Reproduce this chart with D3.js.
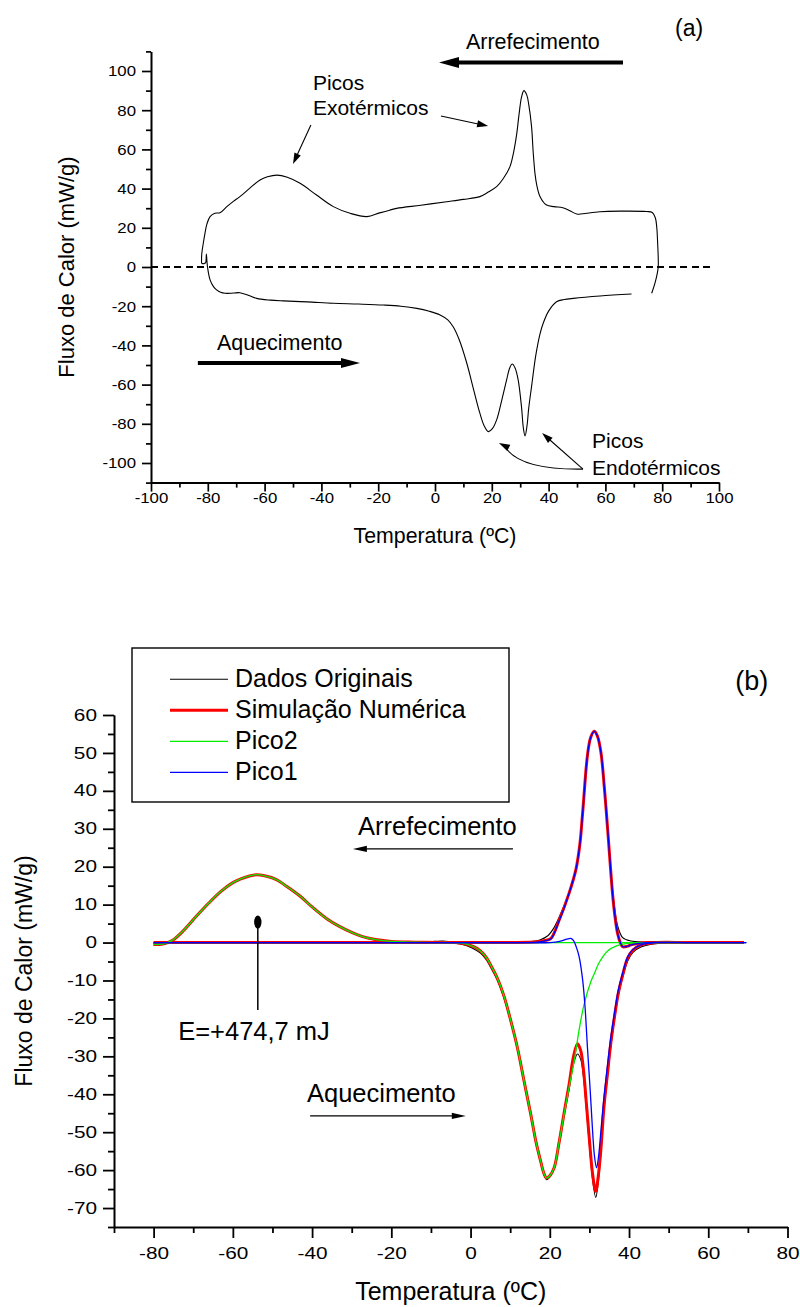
<!DOCTYPE html>
<html>
<head>
<meta charset="utf-8">
<script src="https://cdn.jsdelivr.net/npm/d3@7"></script>
<style>
  body { margin: 0; background: #fff; }
  svg { display: block; }
</style>
</head>
<body>
<script>
// DSC curves: (a) raw loop, (b) fit with two peaks

// ---- (a) data: one loop, cooling (right to left) then heating (left to right) ----
const loopCurve = [
    [76.3, -13.4], [77.5, -8], [78.3, -3], [78.6, 0], [78.6, 5], [78.4, 12], [78.1, 20], [77.6, 25],
    [76.5, 27.8], [74.5, 28.3], [65, 28.5], [58, 28.2], [52, 27.2], [49.9, 27], [47.5, 28.7], [45, 30.2],
    [42, 30.8], [39.3, 31.6], [37, 35.9], [35.8, 42], [35.2, 47.8], [34.6, 58], [34, 71.6], [33, 83],
    [32.3, 87.8], [31.3, 90], [30.5, 86.9], [29.6, 78], [28.8, 68.2], [27.6, 58], [26.4, 51.2], [24, 45],
    [21.7, 41], [18.5, 38], [15.8, 35.9], [10, 34.5], [4.1, 33.3], [-5, 31.5], [-13.5, 29.9], [-16, 29],
    [-19.5, 27.6], [-24, 25.7], [-29.9, 27.4], [-35.8, 30.8], [-41.7, 36.7], [-47.5, 42.7], [-52, 45.8],
    [-55.7, 46.9], [-59, 46], [-61.6, 44.4], [-65, 40.5], [-68.7, 35.9], [-71, 33.5], [-73.3, 30.8],
    [-75.7, 27.7], [-77.5, 27.4], [-79.2, 25.7], [-80.3, 22], [-81, 17.2], [-81.6, 12], [-82.1, 7],
    [-82.2, 3.5], [-82.1, 1.9], [-81, 1.9], [-80.7, 2.5], [-80.5, 6.6],
    [-80.3, 3], [-80.1, 0], [-79.2, -6.6], [-78, -10], [-76.9, -11.7], [-75.5, -12.9], [-73.9, -13.4],
    [-71, -13.3], [-68.7, -13.1], [-65.5, -14.5], [-62.8, -16], [-58, -16.9], [-53.4, -17.3], [-45, -17.8],
    [-35.8, -18.5], [-27, -18.9], [-18.2, -19.4], [-12, -20], [-6.4, -21.1], [-2, -22.6], [1.8, -24.5],
    [4.5, -27], [6.4, -30.5], [8.5, -37], [11.2, -49.1], [13.5, -62], [15.8, -74.6], [17.3, -81],
    [18.8, -84], [20.2, -82.5], [21.7, -78], [23.5, -68], [25.2, -57.7], [26.3, -51.5], [27.2, -49.5],
    [28.2, -51.5], [29.3, -57.7], [30.5, -72], [31.1, -82], [31.7, -86.2], [32.4, -81], [33, -72],
    [34, -61], [35.5, -45], [37, -34], [38.1, -28.7], [40, -22.5], [42.8, -17.7], [45.5, -16.6],
    [48.7, -16], [58.1, -14.8], [69.2, -13.8]
];

const topXMajor = [-100, -80, -60, -40, -20, 0, 20, 40, 60, 80, 100];
const topXMinor = [-90, -70, -50, -30, -10, 10, 30, 50, 70, 90];
const topYMajor = [-100, -80, -60, -40, -20, 0, 20, 40, 60, 80, 100];
const topYMinor = [-110, -90, -70, -50, -30, -10, 10, 30, 50, 70, 90, 110];

// ---- (b) data, each series split in cooling and heating runs (by rising temperature) ----
const dadosCool = [
    [-80, -0.7], [-78.5, -0.6], [-77, -0.3], [-75.1, 0.6], [-72.6, 3.0], [-69, 7.2], [-66, 10.5], [-63, 13.5],
    [-60, 15.8], [-58, 16.8], [-56, 17.5], [-54, 17.8], [-52, 17.5], [-49, 16.5], [-46.4, 14.7], [-43, 12.1],
    [-40, 9.3], [-36.3, 6.2], [-33, 4.1], [-30, 2.6], [-27, 1.4], [-24, 0.7], [-20, 0.2], [-14, 0],
    [-9, 0.3], [-7, 0.4], [-4, 0.1], [0, 0], [10, 0], [15, 0.2], [17.5, 0.7], [19.5, 1.8], [21, 3.8],
    [22.5, 7], [24.9, 13.3], [26.6, 19.5], [27.6, 26], [28.4, 35], [29.5, 49], [30.3, 53.8], [31.2, 55.5],
    [32, 54.3], [32.9, 50], [33.8, 40], [34.6, 29.8], [35.4, 19], [36.2, 10.5], [37.1, 4.5], [38.4, 1.3],
    [40.5, 0.4], [44, 0.1], [50, 0], [60, 0], [69, 0]
];
const dadosHeat = [
    [-80, -0.3], [-70, -0.1], [-50, 0], [-30, 0], [-15, 0], [-8, 0.1], [-4, -0.2], [-2, -0.5], [0.5, -1.5],
    [2.5, -2.8], [4, -4.6], [5.1, -6.6], [6.8, -10], [8.4, -14.5], [10, -20.3], [11.8, -27.8], [13.5, -36.8],
    [15.2, -45.6], [16.5, -52.8], [17.7, -58], [18.5, -61.2], [19.2, -62.5], [20, -61.8], [21.1, -59.6],
    [22.3, -53.2], [23.6, -45.5], [24.9, -38.5], [26, -32], [27, -29.4], [27.8, -30.8], [28.5, -35.5],
    [29.2, -43.5], [30, -53.5], [30.8, -62.5], [31.6, -67.2], [32.3, -62.5], [32.9, -55.5], [33.7, -44],
    [34.6, -35], [35.4, -27.5], [36.3, -20.5], [37.3, -14], [38.4, -9.2], [39.7, -4.8], [41, -2.6],
    [43, -1.2], [46, -0.4], [50, -0.1], [60, 0], [69, 0]
];

const simCool = [
    [-80, -0.5], [-78.5, -0.5], [-77, -0.2], [-75.1, 0.7], [-72.6, 3.0], [-69, 7.2], [-66, 10.5], [-63, 13.5],
    [-60, 15.8], [-58, 16.8], [-56, 17.5], [-54, 17.9], [-52, 17.6], [-49, 16.6], [-46.4, 14.8], [-43, 12.2],
    [-40, 9.4], [-36.3, 6.3], [-33, 4.2], [-30, 2.7], [-27, 1.5], [-24, 0.8], [-20, 0.3], [-14, 0.1],
    [-8, 0], [0, 0], [10, 0], [16.9, 0.2], [19, 0.6], [20.3, 1.1], [22.4, 6], [24.9, 13.1], [26.6, 19.3],
    [27.6, 26], [28.3, 34.3], [29.5, 49.3], [30.3, 54], [31.2, 55.7], [32, 54.5], [32.9, 50.2], [33.8, 40.5],
    [34.6, 29.9], [35.3, 20], [35.9, 12.2], [36.5, 6.5], [37.1, 2.5], [37.8, 0], [38.4, -1.1], [39.5, -1.0],
    [40.5, -0.6], [42.5, -0.2], [44.7, 0], [50, 0], [60, 0], [69, 0]
];
const simHeat = [
    [-80, 0], [-60, 0], [-40, 0], [-20, 0], [-10, 0], [-5, 0], [-2.5, -0.1], [0.8, -1.1], [2.5, -2.2],
    [4, -4], [5.1, -6], [6.8, -9.5], [8.4, -14], [10, -20], [11.8, -27.6], [13.5, -36.5], [15.2, -45.3],
    [16.5, -52.5], [17.7, -57.7], [18.5, -60.8], [19.2, -62.1], [20, -61.5], [21.1, -59.4], [22.3, -53],
    [23.6, -45], [24.9, -37.2], [26, -30], [27, -26.7], [27.8, -28.5], [28.5, -33.5], [29.2, -42], [30, -52],
    [30.8, -61], [31.6, -65.6], [32.3, -61], [32.9, -54.5], [33.7, -43], [34.6, -34.2], [35.4, -26.5],
    [36.3, -19.8], [37.3, -13.3], [38.4, -8.5], [39.7, -4], [41, -2], [43, -0.6], [47, 0], [55, 0], [69, 0]
];

const pico2Cool = [
    [-80, -0.5], [-78.5, -0.5], [-77, -0.2], [-75.1, 0.7], [-72.6, 3.0], [-69, 7.2], [-66, 10.5], [-63, 13.5],
    [-60, 15.8], [-58, 16.8], [-56, 17.5], [-54, 17.9], [-52, 17.6], [-49, 16.6], [-46.4, 14.8], [-43, 12.2],
    [-40, 9.4], [-36.3, 6.3], [-33, 4.2], [-30, 2.7], [-27, 1.5], [-24, 0.8], [-20, 0.3], [-14, 0.1],
    [-8, 0], [0, 0], [10, 0], [20, 0], [30, 0], [40, 0], [50, 0], [60, 0], [69, 0]
];
const pico2Heat = [
    [-80, 0], [-60, 0], [-40, 0], [-20, 0], [-10, 0], [-5, 0], [-2.5, -0.1], [0.8, -1.1], [2.5, -2.2],
    [4, -4], [5.1, -6], [6.8, -9.5], [8.4, -14], [10, -20], [11.8, -27.6], [13.5, -36.5], [15.2, -45.3],
    [16.5, -52.5], [17.7, -57.7], [18.5, -60.8], [19.2, -62.1], [20, -61.5], [21.1, -59.4], [22.3, -53],
    [23.6, -45.3], [24.9, -38], [26.2, -31.1], [27.4, -23], [28.7, -16.1], [30.4, -10.2], [31.2, -8.3],
    [32.5, -5.2], [34.6, -2.2], [37, -0.8], [39.7, -0.2], [45, 0], [55, 0], [69, 0]
];

const pico1Cool = [
    [-80, 0], [-60, 0], [-40, 0], [-20, 0], [0, 0], [10, 0], [16.9, 0.1], [19, 0.5], [20.3, 1.0], [22.4, 5.8],
    [24.9, 13.1], [26.6, 19.3], [27.6, 26], [28.3, 34.3], [29.5, 49.3], [30.3, 54], [31.2, 55.7], [32, 54.5],
    [32.9, 50.2], [33.8, 40.5], [34.6, 29.9], [35.3, 20], [35.9, 12.2], [36.5, 6.5], [37.1, 2.5], [37.8, 0],
    [38.4, -1.1], [39.5, -1.0], [40.5, -0.6], [42.5, -0.2], [44.7, 0], [50, 0], [60, 0], [69.6, 0]
];
const pico1Heat = [
    [-80, 0], [-60, 0], [-40, 0], [-20, 0], [0, 0], [10, 0], [20, 0], [22.5, 0.3], [24.3, 0.9], [25.3, 1.1],
    [26, 0.5], [26.7, -1.2], [27.4, -3.7], [28.3, -9.9], [28.9, -17], [29.5, -27.6], [30.2, -39], [30.8, -49.7],
    [31.3, -56.5], [31.8, -59.4], [32.3, -56.5], [32.9, -49.7], [33.7, -40.5], [34.6, -32], [35.4, -25],
    [36.3, -18.8], [37.3, -12.5], [38.4, -8], [39.7, -3.7], [41, -1.8], [43, -0.6], [47, 0], [55, 0], [69.6, 0]
];

const legendNames = ["Dados Originais", "Simulação Numérica", "Pico2", "Pico1"];
const legendColors = ["#000000", "#ff0000", "#00ee00", "#0000ff"];
const legendWidths = [1.1, 3, 1.3, 1.3];

const botXMajor = [-80, -60, -40, -20, 0, 20, 40, 60, 80];
const botXMinor = [-90, -70, -50, -30, -10, 10, 30, 50, 70];
const botYMajor = [-70, -60, -50, -40, -30, -20, -10, 0, 10, 20, 30, 40, 50, 60];
const botYMinor = [-75, -65, -55, -45, -35, -25, -15, -5, 5, 15, 25, 35, 45, 55];

const FONT = "Arial, 'Liberation Sans', Helvetica, sans-serif";

let svg = d3.select('body')
    .append('svg')
    .attr('width', 800)
    .attr('height', 1307)
    .style('background', '#fff')
    .attr('font-family', FONT);

// tick labels in the original look wider than normal Arial, so stretch them a bit
function stretchLabels(g, sx) {
    g.selectAll('.tick text').each(function () {
        let t = d3.select(this);
        let x = +t.attr('x') || 0;
        t.attr('x', x / sx).attr('transform', `scale(${sx},1)`);
    });
}

function drawAxes(x, y, o) {
    let bottom = y.range()[0];
    let left = x.range()[0];

    // minor ticks first, majors on top
    svg.append('g')
        .attr('transform', `translate(0,${bottom})`)
        .call(d3.axisBottom(x).tickValues(o.xMinor).tickSize(o.minorLen).tickSizeOuter(0).tickFormat(''))
        .call(g => g.selectAll('line').attr('stroke-width', o.tickWidth));
    svg.append('g')
        .attr('transform', `translate(${left},0)`)
        .call(d3.axisLeft(y).tickValues(o.yMinor).tickSize(o.minorLen).tickSizeOuter(0).tickFormat(''))
        .call(g => g.selectAll('line').attr('stroke-width', o.tickWidth));

    let gx = svg.append('g')
        .attr('transform', `translate(0,${bottom})`)
        .call(d3.axisBottom(x).tickValues(o.xMajor).tickSize(o.majorLen).tickSizeOuter(0)
            .tickPadding(o.xPad).tickFormat(d => String(d)));
    let gy = svg.append('g')
        .attr('transform', `translate(${left},0)`)
        .call(d3.axisLeft(y).tickValues(o.yMajor).tickSize(o.majorLen).tickSizeOuter(0)
            .tickPadding(o.yPad).tickFormat(d => String(d)));

    [gx, gy].forEach(g => {
        g.attr('font-family', FONT).attr('font-size', o.fontSize);
        g.selectAll('.domain').attr('stroke-width', o.axisWidth);
        g.selectAll('line').attr('stroke-width', o.tickWidth);
        g.selectAll('text').attr('fill', '#000');
        stretchLabels(g, o.stretch);
    });
}

// straight arrow with a filled head at p1
function arrow(g, p0, p1, width, head, half) {
    let dx = p1[0] - p0[0], dy = p1[1] - p0[1];
    let len = Math.hypot(dx, dy);
    let ux = dx / len, uy = dy / len;
    let bx = p1[0] - ux * head, by = p1[1] - uy * head;
    g.append('line')
        .attr('x1', p0[0]).attr('y1', p0[1])
        .attr('x2', bx + ux * 2).attr('y2', by + uy * 2)
        .attr('stroke', '#000')
        .attr('stroke-width', width);
    g.append('path')
        .attr('d', `M${p1[0]},${p1[1]}L${bx - uy * half},${by + ux * half}L${bx + uy * half},${by - ux * half}Z`)
        .attr('fill', '#000');
}

function label(g, x, y, txt, size, anchor = 'start') {
    return g.append('text')
        .attr('x', x)
        .attr('y', y)
        .attr('font-size', size)
        .attr('text-anchor', anchor)
        .attr('fill', '#000')
        .text(txt);
}

// ================= (a) =================
let xA = d3.scaleLinear().domain([-100, 100]).range([151, 719]);
let yA = d3.scaleLinear().domain([-110, 110]).range([482.6, 51.4]);

drawAxes(xA, yA, {
    xMajor: topXMajor, xMinor: topXMinor, yMajor: topYMajor, yMinor: topYMinor,
    majorLen: 9, minorLen: 5, xPad: 1, yPad: 6, fontSize: 15, stretch: 1.12,
    axisWidth: 2, tickWidth: 1.7
});

let topG = svg.append('g');

// zero reference
topG.append('line')
    .attr('x1', xA(-100)).attr('x2', xA(98))
    .attr('y1', yA(0)).attr('y2', yA(0))
    .attr('stroke', '#000')
    .attr('stroke-width', 1.2)
    .attr('shape-rendering', 'crispEdges')
    .attr('stroke-dasharray', '7,4.5');

let loopLine = d3.line()
    .x(d => xA(d[0]))
    .y(d => yA(d[1]))
    .curve(d3.curveCatmullRom.alpha(0.5));

topG.append('path')
    .datum(loopCurve)
    .attr('d', loopLine)
    .attr('fill', 'none')
    .attr('stroke', '#000')
    .attr('stroke-width', 1.1);

// axis titles
svg.append('text')
    .attr('transform', `translate(74,${yA(0)}) rotate(-90)`)
    .attr('text-anchor', 'middle')
    .attr('font-size', 22)
    .text('Fluxo de Calor (mW/g)');
label(svg, (xA.range()[0] + xA.range()[1]) / 2, 543, 'Temperatura (ºC)', 21.3, 'middle');

// annotations
label(topG, xA(84.5), yA(117.9), '(a)', 23);
label(topG, xA(10.9), yA(111.2), 'Arrefecimento', 21.5);
arrow(topG, [xA(66.2), yA(104.3)], [xA(1.4), yA(104.3)], 4, 20, 5.5);
label(topG, xA(-76.8), yA(-42.3), 'Aquecimento', 21.5);
arrow(topG, [xA(-83.5), yA(-49)], [xA(-26.4), yA(-49)], 4, 19, 5);

label(topG, xA(-43), yA(90.3), 'Picos', 21);
label(topG, xA(-43), yA(77.6), 'Exotérmicos', 21);
arrow(topG, [xA(-43.7), yA(72.4)], [xA(-50), yA(52.6)], 1.1, 11, 3.5);
arrow(topG, [xA(2.1), yA(77)], [xA(18.7), yA(71.9)], 1.1, 11, 3.5);

label(topG, xA(55.3), yA(-92.3), 'Picos', 21);
label(topG, xA(55.3), yA(-106.1), 'Endotérmicos', 21);
arrow(topG, [xA(52.1), yA(-103.1)], [xA(37.7), yA(-84.7)], 1.1, 11, 3.5);

// curved arrow to the first endothermic peak
let c0 = [xA(52.1), yA(-103.1)], cc = [xA(29.6), yA(-103.6)], c1 = [xA(22.5), yA(-89.8)];
topG.append('path')
    .attr('d', `M${c0[0]},${c0[1]}Q${cc[0]},${cc[1]} ${c1[0] + 6},${c1[1] + 3.5}`)
    .attr('fill', 'none')
    .attr('stroke', '#000')
    .attr('stroke-width', 1.1);
arrow(topG, [c1[0] + 12, c1[1] + 6], c1, 0.1, 11, 3.5);

// ================= (b) =================
let xB = d3.scaleLinear().domain([-90, 80]).range([114, 787.5]);
let yB = d3.scaleLinear().domain([-75, 60]).range([1227, 715]);

drawAxes(xB, yB, {
    xMajor: botXMajor, xMinor: botXMinor, yMajor: botYMajor, yMinor: botYMinor,
    majorLen: 11, minorLen: 6, xPad: 10, yPad: 6, fontSize: 16, stretch: 1.3,
    axisWidth: 2, tickWidth: 1.8
});

let line = d3.line()
    .x(d => xB(d[0]))
    .y(d => yB(d[1]))
    .curve(d3.curveCatmullRom.alpha(0.5));

let plotB = svg.append('g');
let seriesRuns = [
    [dadosCool, dadosHeat],
    [simCool, simHeat],
    [pico2Cool, pico2Heat],
    [pico1Cool, pico1Heat]
];
seriesRuns.forEach((runs, i) => {
    runs.forEach(run => {
        plotB.append('path')
            .datum(run)
            .attr('d', line)
            .attr('fill', 'none')
            .attr('stroke', legendColors[i])
            .attr('stroke-width', legendWidths[i]);
    });
});

// legend
let leg = svg.append('g');
leg.append('rect')
    .attr('x', 132).attr('y', 648)
    .attr('width', 377).attr('height', 154)
    .attr('fill', '#fff')
    .attr('stroke', '#000')
    .attr('stroke-width', 1.4);
legendNames.forEach((name, i) => {
    let ly = 679.3 + i * 31;
    leg.append('line')
        .attr('x1', 170).attr('x2', 228)
        .attr('y1', ly).attr('y2', ly)
        .attr('stroke', legendColors[i])
        .attr('stroke-width', legendWidths[i]);
    label(leg, 235, ly + 7.6, name, 25);
});

// axis titles
svg.append('text')
    .attr('transform', `translate(32,${(yB.range()[0] + yB.range()[1]) / 2}) rotate(-90)`)
    .attr('text-anchor', 'middle')
    .attr('font-size', 23)
    .text('Fluxo de Calor (mW/g)');
label(svg, (xB.range()[0] + xB.range()[1]) / 2, 1300, 'Temperatura (ºC)', 25, 'middle');

// annotations
let annB = svg.append('g');
label(annB, xB(66.8), yB(66.6), '(b)', 27);
label(annB, xB(-28.4), yB(28.4), 'Arrefecimento', 25.5);
arrow(annB, [xB(10.7), yB(24.7)], [xB(-29.7), yB(24.7)], 1.4, 14, 3.2);
label(annB, xB(-41.3), yB(-42), 'Aquecimento', 25.5);
arrow(annB, [xB(-40.5), yB(-45.7)], [xB(-1.2), yB(-45.7)], 1.4, 14, 3.2);

label(annB, xB(-73.8), yB(-25.7), 'E=+474,7 mJ', 25.5);
annB.append('line')
    .attr('x1', xB(-53.7)).attr('x2', xB(-53.7))
    .attr('y1', yB(5.4)).attr('y2', yB(-17.8))
    .attr('stroke', '#000')
    .attr('stroke-width', 1.5);
annB.append('ellipse')
    .attr('cx', xB(-53.7)).attr('cy', yB(5.4))
    .attr('rx', 3.7).attr('ry', 6.5)
    .attr('fill', '#000');
</script>
</body>
</html>
